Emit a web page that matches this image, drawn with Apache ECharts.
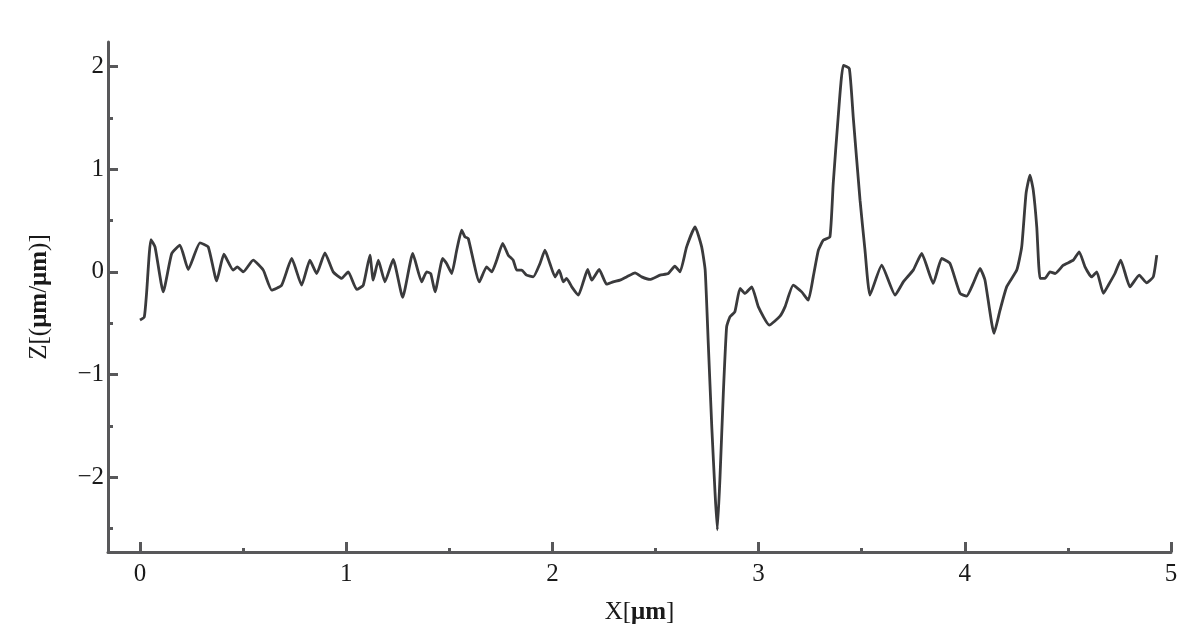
<!DOCTYPE html>
<html>
<head>
<meta charset="utf-8">
<title>Z profile</title>
<script src="https://cdn.jsdelivr.net/npm/echarts@6/dist/echarts.min.js"></script>
<style>
  html, body { margin: 0; padding: 0; background: #fff; }
  #chart { width: 1203px; height: 634px; }
</style>
</head>
<body>
<div id="chart"></div>
<script>
  // profile: x in μm, z in μm/μm
  const xs = [
    0, 0.021, 0.032, 0.053, 0.073, 0.113, 0.154, 0.194, 0.234, 0.291,
    0.331, 0.372, 0.407, 0.452, 0.472, 0.501, 0.549, 0.598, 0.639, 0.687,
    0.736, 0.784, 0.824, 0.857, 0.897, 0.937, 0.978, 1.010, 1.051, 1.083,
    1.115, 1.131, 1.156, 1.188, 1.228, 1.274, 1.323, 1.366, 1.390, 1.410,
    1.431, 1.468, 1.487, 1.512, 1.536, 1.560, 1.576, 1.592, 1.646, 1.681,
    1.706, 1.730, 1.759, 1.786, 1.810, 1.827, 1.851, 1.875, 1.907, 1.940,
    1.964, 1.988, 2.013, 2.033, 2.053, 2.069, 2.094, 2.126, 2.150, 2.171,
    2.191, 2.227, 2.263, 2.295, 2.328, 2.360, 2.401, 2.433, 2.473, 2.522,
    2.562, 2.594, 2.619, 2.651, 2.692, 2.724, 2.741, 2.756, 2.773, 2.789,
    2.800, 2.813, 2.829, 2.845, 2.861, 2.885, 2.910, 2.934, 2.967, 2.999,
    3.052, 3.104, 3.128, 3.168, 3.209, 3.241, 3.265, 3.290, 3.314, 3.346,
    3.362, 3.386, 3.411, 3.440, 3.459, 3.492, 3.516, 3.540, 3.597, 3.662,
    3.702, 3.750, 3.791, 3.847, 3.888, 3.928, 3.977, 4.009, 4.041, 4.074,
    4.098, 4.142, 4.171, 4.203, 4.252, 4.276, 4.297, 4.316, 4.332, 4.349,
    4.365, 4.389, 4.413, 4.438, 4.478, 4.526, 4.555, 4.583, 4.615, 4.640,
    4.672, 4.696, 4.728, 4.756, 4.801, 4.846, 4.882, 4.914, 4.931
  ]
  const zs = [
    -0.47, -0.44, -0.21, 0.315, 0.243, -0.195, 0.179, 0.26, 0.023, 0.282,
    0.243, -0.088, 0.172, 0.017, 0.049, 0, 0.114, 0.017, -0.178, -0.13,
    0.13, -0.13, 0.114, -0.016, 0.185, 0, -0.064, 0, -0.171, -0.13,
    0.163, -0.081, 0.114, -0.097, 0.121, -0.249, 0.179, -0.097, 0, -0.016,
    -0.195, 0.13, 0.082, -0.016, 0.211, 0.406, 0.341, 0.325, -0.097, 0.049,
    0, 0.114, 0.277, 0.163, 0.114, 0.017, 0.017, -0.032, -0.049, 0.082,
    0.211, 0.082, -0.049, 0.017, -0.097, -0.064, -0.146, -0.227, -0.097, 0.023,
    -0.081, 0.023, -0.12, -0.097, -0.081, -0.049, -0.01, -0.049, -0.074, -0.032,
    -0.016, 0.055, 0, 0.243, 0.438, 0.243, 0.017, -0.697, -1.509, -2.158,
    -2.515, -1.996, -1.184, -0.536, -0.438, -0.389, -0.162, -0.21, -0.146, -0.341,
    -0.519, -0.431, -0.341, -0.13, -0.195, -0.276, -0.049, 0.211, 0.309, 0.341,
    0.861, 1.509, 2.013, 1.981, 1.509, 0.698, 0.211, -0.227, 0.065, -0.227,
    -0.097, 0.017, 0.179, -0.113, 0.13, 0.082, -0.21, -0.237, -0.113, 0.033,
    -0.081, -0.6, -0.373, -0.146, 0.017, 0.243, 0.763, 0.942, 0.796, 0.438,
    -0.064, -0.064, 0, -0.016, 0.065, 0.114, 0.195, 0.049, -0.049, 0,
    -0.21, -0.13, -0.016, 0.114, -0.146, -0.032, -0.107, -0.049, 0.163
  ]

  const xTicks = [0, 1, 2, 3, 4, 5]
  const xMinorTicks = [0.5, 1.5, 2.5, 3.5, 4.5]
  const zTicks = [-2, -1, 0, 1, 2]
  const zMinorTicks = [-2.5, -1.5, -0.5, 0.5, 1.5]

  const serif = '"Liberation Serif", "Times New Roman", serif'
  const axisColor = '#58585a'
  const minus = v => (v < 0 ? '\u2212' + Math.abs(v) : '' + v)

  const chart = echarts.init(document.getElementById('chart'))

  const option = {
    animation: false,
    backgroundColor: '#fff',
    grid: {
      left: 108,
      right: 32,
      top: 42,
      bottom: 82
    },
    xAxis: [
      {
        type: 'value',
        min: -0.155,
        max: 5,
        position: 'bottom',
        splitLine: { show: false },
        axisLine: { onZero: false, lineStyle: { color: axisColor, width: 3 } },
        axisTick: { customValues: xTicks, inside: true, length: 10, lineStyle: { color: axisColor, width: 3 } },
        axisLabel: {
          customValues: xTicks,
          formatter: minus,
          margin: 10,
          color: '#1a1a1a',
          fontFamily: serif,
          fontSize: 25
        },
        name: 'X[{b|μm}]',
        nameLocation: 'middle',
        nameGap: 48,
        nameTextStyle: {
          color: '#1a1a1a',
          fontFamily: serif,
          fontSize: 25,
          rich: {
            b: { fontFamily: serif, fontSize: 25, fontWeight: 'bold', color: '#1a1a1a' }
          }
        }
      },
      {
        type: 'value',
        min: -0.155,
        max: 5,
        position: 'bottom',
        splitLine: { show: false },
        axisLine: { show: false, onZero: false },
        axisTick: { customValues: xMinorTicks, inside: true, length: 4, lineStyle: { color: axisColor, width: 3 } },
        axisLabel: { show: false }
      }
    ],
    yAxis: [
      {
        type: 'value',
        min: -2.73,
        max: 2.24,
        position: 'left',
        splitLine: { show: false },
        axisLine: { show: true, onZero: false, lineStyle: { color: axisColor, width: 3 } },
        axisTick: { show: true, customValues: zTicks, inside: true, length: 10, lineStyle: { color: axisColor, width: 3 } },
        axisLabel: {
          customValues: zTicks,
          formatter: minus,
          margin: 4,
          color: '#1a1a1a',
          fontFamily: serif,
          fontSize: 25
        },
        name: 'Z[({b|μm}/{b|μm})]',
        nameLocation: 'middle',
        nameGap: 56,
        nameTextStyle: {
          color: '#1a1a1a',
          fontFamily: serif,
          fontSize: 25,
          rich: {
            b: { fontFamily: serif, fontSize: 25, fontWeight: 'bold', color: '#1a1a1a' }
          }
        }
      },
      {
        type: 'value',
        min: -2.73,
        max: 2.24,
        position: 'left',
        splitLine: { show: false },
        axisLine: { show: false, onZero: false },
        axisTick: { show: true, customValues: zMinorTicks, inside: true, length: 5, lineStyle: { color: axisColor, width: 3 } },
        axisLabel: { show: false }
      }
    ],
    series: [
      {
        type: 'line',
        xAxisIndex: 0,
        yAxisIndex: 0,
        showSymbol: false,
        smooth: 0.15,
        lineStyle: { color: '#3a3a3c', width: 2.8 },
        data: xs.map((x, i) => [x, zs[i]])
      }
    ]
  }

  chart.setOption(option)
</script>
</body>
</html>
